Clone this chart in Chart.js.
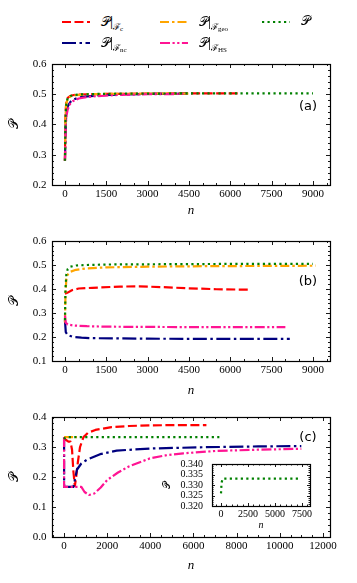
<!DOCTYPE html>
<html><head><meta charset="utf-8">
<script src="https://cdn.jsdelivr.net/npm/chart.js@4/dist/chart.umd.min.js"></script>
<style>
html,body{margin:0;padding:0;background:#fff;}
#wrap{position:relative;width:357px;height:583px;overflow:hidden;font-family:"Liberation Serif",serif;color:#000;}
canvas{position:absolute;}
.lg{position:absolute;height:20px;white-space:nowrap;}
.lg svg{position:absolute;left:0;top:0;}
.lg .t{position:absolute;top:2px;font-size:13px;line-height:14px;}
.lg .bar{font-size:15px;}
.lg .s1{font-size:9px;position:relative;top:4px;}
.lg .s2{font-size:7px;position:relative;top:1px;}
.pl{position:absolute;font-family:"DejaVu Sans",sans-serif;font-size:13px;line-height:14px;transform:translate(-50%,-50%);}
</style>
</head><body>
<div id="wrap">
  <canvas id="ca" width="357" height="173" style="left:0;top:52px"></canvas>
  <canvas id="cb" width="357" height="172" style="left:0;top:229px"></canvas>
  <canvas id="cc" width="357" height="172" style="left:0;top:405px"></canvas>
  <canvas id="ci" width="160" height="83" style="left:160px;top:449px"></canvas>
  <div class="pl" style="left:308px;top:106px">(a)</div>
  <div class="pl" style="left:308px;top:281px">(b)</div>
  <div class="pl" style="left:308px;top:437px">(c)</div>
  <div id="legend"></div>
</div>
<script>
// ---------- tick labels ----------
const xTicksAB = [0,1500,3000,4500,6000,7500,9000];
const xTicksC  = [0,2000,4000,6000,8000,10000,12000];
const xTicksIn = [0,2500,5000,7500];
const yTicksA  = [0.2,0.3,0.4,0.5,0.6];
const yTicksB  = [0.1,0.2,0.3,0.4,0.5,0.6];
const yTicksC  = [0.0,0.1,0.2,0.3,0.4];
const yTicksIn = [0.320,0.325,0.330,0.335,0.340];

// ---------- series names ----------
const seriesNames = ['𝒫|ℱc','𝒫|ℱnc','𝒫|ℱgeo','𝒫|ℱHS','𝒫'];

// ---------- panel (a) ----------
const nA_c   = [0,20,50,100,200,400,800,1500,3000,4500,6300];
const pA_c   = [0.28,0.44,0.475,0.488,0.495,0.499,0.500,0.501,0.502,0.503,0.503];
const nA_nc  = [0,30,60,100,200,300,500,800,1200,2000,3000,4600];
const pA_nc  = [0.28,0.41,0.44,0.46,0.475,0.482,0.489,0.493,0.496,0.499,0.501,0.502];
const nA_geo = [0,20,50,100,200,400,800,1500,3000,4500];
const pA_geo = [0.28,0.43,0.47,0.485,0.493,0.497,0.500,0.501,0.502,0.502];
const nA_hs  = [0,30,60,100,200,300,500,800,1200,2000,3000,4400];
const pA_hs  = [0.28,0.40,0.43,0.45,0.47,0.478,0.486,0.491,0.494,0.498,0.500,0.501];
const nA_all = [0,20,50,100,200,300,500,800,1200,2000,3000,4500,6000,7500,9000];
const pA_all = [0.28,0.42,0.47,0.487,0.494,0.497,0.499,0.500,0.501,0.502,0.502,0.503,0.503,0.503,0.503];

// ---------- panel (b) ----------
const nB_c   = [0,100,250,500,1000,2000,2700,3500,4500,5500,6700];
const pB_c   = [0.38,0.385,0.395,0.402,0.405,0.410,0.411,0.408,0.403,0.399,0.397];
const nB_nc  = [0,30,100,300,600,1000,2000,3000,5000,8160];
const pB_nc  = [0.27,0.22,0.208,0.200,0.197,0.195,0.194,0.193,0.192,0.192];
const nB_geo = [0,20,50,100,200,400,800,1500,3000,5000,7000,9100];
const pB_geo = [0.26,0.38,0.44,0.46,0.472,0.480,0.486,0.490,0.493,0.495,0.496,0.497];
const nB_hs  = [0,30,100,300,800,1500,3000,5000,8000];
const pB_hs  = [0.29,0.26,0.252,0.248,0.245,0.243,0.242,0.241,0.241];
const nB_all = [0,20,50,100,200,400,800,1500,3000,5000,7000,9000];
const pB_all = [0.27,0.40,0.46,0.483,0.493,0.498,0.500,0.502,0.503,0.504,0.505,0.505];

// ---------- panel (c) ----------
const nC_c   = [0,60,200,300,370,430,500,560,640,740,900,1100,1450,2200,3000,4000,5000,6600];
const pC_c   = [0.333,0.325,0.318,0.318,0.29,0.22,0.17,0.20,0.25,0.30,0.333,0.347,0.357,0.366,0.370,0.372,0.373,0.373];
const nC_nc  = [0,1,430,500,600,800,1050,1670,2440,4000,6300,9000,11000];
const pC_nc  = [0.333,0.167,0.167,0.19,0.225,0.245,0.257,0.276,0.288,0.295,0.299,0.302,0.303];
const nC_geo = [0,600];
const pC_geo = [0.333,0.333];
const nC_hs  = [0,1,800,950,1150,1400,1700,2000,2500,3000,3980,4700,5530,7080,9000,11000];
const pC_hs  = [0.333,0.167,0.167,0.15,0.14,0.145,0.165,0.19,0.215,0.235,0.262,0.272,0.279,0.287,0.291,0.294];
const nC_all = [0,50,150,500,7200];
const pC_all = [0.326,0.331,0.333,0.333,0.333];

// ---------- styles ----------
const COL = {c:'#ff0000', nc:'#00007f', geo:'#ffa500', hs:'#ff1493', all:'#008000'};
const DASH = {c:[9,3.5], nc:[14,3.5,2.5,3.5], geo:[9,3,2.5,3], hs:[10,2.5,2.2,2.5,2.2,2.5], all:[2.2,3.3]};
const LW = 2.2;
const SERIF = '"Liberation Serif", "DejaVu Serif", serif';

function pts(n,p){ return n.map((v,i)=>({x:v,y:p[i]})); }
function ds(key,n,p,order){
  return {label:key, data:pts(n,p), borderColor:COL[key], borderDash:DASH[key], borderWidth:LW,
          pointRadius:0, tension:0, fill:false, borderCapStyle:'butt', borderJoinStyle:'round', order:order};
}

const frameTicks = {
  id:'frameTicks',
  beforeDatasetsDraw(chart, args, o){
    if(o.bg){ const a=chart.chartArea; const c=chart.ctx; c.save(); c.fillStyle='#fff'; c.fillRect(a.left,a.top,a.width,a.height); c.restore(); }
  },
  afterDatasetsDraw(chart, args, o){
    const {ctx, chartArea:a, scales:{x,y}} = chart;
    ctx.save();
    ctx.strokeStyle='#000'; ctx.lineWidth=0.9;
    ctx.beginPath();
    const tx=(v,len)=>{const px=Math.round(x.getPixelForValue(v))+0.5; if(px<a.left+1||px>a.right-1) return;
      ctx.moveTo(px,a.bottom); ctx.lineTo(px,a.bottom-len); ctx.moveTo(px,a.top); ctx.lineTo(px,a.top+len);};
    const ty=(v,len)=>{const py=Math.round(y.getPixelForValue(v))+0.5; if(py<a.top+1||py>a.bottom-1) return;
      ctx.moveTo(a.left,py); ctx.lineTo(a.left+len,py); ctx.moveTo(a.right,py); ctx.lineTo(a.right-len,py);};
    const minors=(scale,step,major)=>{const out=[]; const s=Math.ceil(scale.min/step); const e=Math.floor(scale.max/step);
      for(let i=s;i<=e;i++){const v=i*step; if(!major.some(m=>Math.abs(m-v)<step*1e-3)) out.push(v);} return out;};
    o.xMajor.forEach(v=>tx(v,o.maj)); minors(x,o.xMinor,o.xMajor).forEach(v=>tx(v,o.min));
    o.yMajor.forEach(v=>ty(v,o.maj)); minors(y,o.yMinor,o.yMajor).forEach(v=>ty(v,o.min));
    ctx.stroke();
    ctx.lineWidth=1.2;
    ctx.strokeRect(Math.round(a.left)+0.5,Math.round(a.top)+0.5,Math.round(a.width),Math.round(a.height));
    ctx.restore();
  }
};

function makeChart(id, cfg){
  const xT=cfg.xTicks, yT=cfg.yTicks;
  return new Chart(document.getElementById(id), {
    type:'line',
    data:{datasets:cfg.datasets},
    options:{
      responsive:false, animation:false, devicePixelRatio:1,
      layout:{padding:cfg.pad},
      plugins:{legend:{display:false}, tooltip:{enabled:false},
        frameTicks:{xMajor:xT, yMajor:yT, xMinor:cfg.xMinor, yMinor:cfg.yMinor, maj:cfg.maj||4, min:cfg.min||2, bg:!!cfg.bg}},
      scales:{
        x:{type:'linear', min:cfg.xMin, max:cfg.xMax,
           afterBuildTicks:s=>{s.ticks=xT.map(v=>({value:v}));},
           afterFit:s=>{s.height=cfg.xH;},
           grid:{display:false, drawTicks:false}, border:{display:false},
           ticks:{autoSkip:false, maxRotation:0, padding:cfg.xPad, color:'#000', font:{family:SERIF,size:cfg.fs},
                  callback:v=>String(v)},
           title:{display:true, text:'n', color:'#000', font:{family:SERIF, style:'italic', size:cfg.tfs},
                  padding:{top:0,bottom:cfg.xTitlePad}}},
        y:{type:'linear', min:cfg.yMin, max:cfg.yMax,
           afterBuildTicks:s=>{s.ticks=yT.map(v=>({value:v}));},
           afterFit:s=>{s.width=cfg.yW;},
           grid:{display:false, drawTicks:false}, border:{display:false},
           ticks:{autoSkip:false, padding:cfg.yPad, color:'#000', font:{family:SERIF,size:cfg.fs},
                  callback:v=>v.toFixed(cfg.dec)},
           title:{display:true, text:'𝒫', color:'#000', font:{family:SERIF, size:cfg.tfs},
                  padding:{top:cfg.yTitlePad,bottom:0}}}
      }
    },
    plugins:[frameTicks]
  });
}

function five(nc,pc,nnc,pnc,ngeo,pgeo,nhs,phs,nall,pall){
  return [ds('all',nall,pall,0), ds('hs',nhs,phs,1), ds('geo',ngeo,pgeo,2), ds('nc',nnc,pnc,3), ds('c',nc,pc,4)];
}

const mainCommon = {pad:{left:0,right:27,top:0,bottom:0}, xH:40, yW:52, fs:11, tfs:13, xPad:3, yPad:5.4, yTitlePad:7, dec:1, yMinor:0.02};

makeChart('ca', Object.assign({}, mainCommon, {
  datasets:five(nA_c,pA_c,nA_nc,pA_nc,nA_geo,pA_geo,nA_hs,pA_hs,nA_all,pA_all),
  xTicks:xTicksAB, yTicks:yTicksA, xMin:-470, xMax:9620, yMin:0.2, yMax:0.6, xMinor:500, xTitlePad:7}));
makeChart('cb', Object.assign({}, mainCommon, {
  datasets:five(nB_c,pB_c,nB_nc,pB_nc,nB_geo,pB_geo,nB_hs,pB_hs,nB_all,pB_all),
  xTicks:xTicksAB, yTicks:yTicksB, xMin:-470, xMax:9620, yMin:0.1, yMax:0.6, xMinor:500, xTitlePad:3}));
makeChart('cc', Object.assign({}, mainCommon, {
  datasets:five(nC_c,pC_c,nC_nc,pC_nc,nC_geo,pC_geo,nC_hs,pC_hs,nC_all,pC_all),
  xTicks:xTicksC, yTicks:yTicksC, xMin:-560, xMax:12330, yMin:0.0, yMax:0.4, xMinor:500, xTitlePad:4}));
makeChart('ci', {
  datasets:[ds('all',nC_all,pC_all,0)],
  pad:{left:0,right:10,top:0,bottom:0}, xH:26, yW:52, fs:10, tfs:10, xPad:2, yPad:9, yTitlePad:1, dec:3,
  xTicks:xTicksIn, yTicks:yTicksIn, xMin:-833, xMax:8240, yMin:0.320, yMax:0.340, xMinor:500, yMinor:0.001,
  xTitlePad:1, maj:3, min:1.5, bg:true});

// ---------- legend ----------
const legendItems = [
  {key:'c',   sub:'c',   x:62,  y:22},
  {key:'nc',  sub:'nc',  x:62,  y:43},
  {key:'geo', sub:'geo', x:160, y:22},
  {key:'hs',  sub:'HS',  x:160, y:43},
  {key:'all', sub:null,  x:262, y:22}
];
const lg = document.getElementById('legend');
legendItems.forEach(it=>{
  const d=document.createElement('div'); d.className='lg';
  d.style.left=it.x+'px'; d.style.top=(it.y-10)+'px';
  const dash=DASH[it.key].join(',');
  const txt = it.sub ? '<span>𝒫</span><span class="bar">|</span><span class="s1">ℱ<span class="s2">'+it.sub+'</span></span>' : '<span>𝒫</span>';
  d.innerHTML='<svg width="30" height="20"><line x1="0" y1="10" x2="28" y2="10" stroke="'+COL[it.key]+'" stroke-width="'+LW+'" stroke-dasharray="'+dash+'"/></svg>'+
              '<span class="t" style="left:39px">'+txt+'</span>';
  lg.appendChild(d);
});
</script>
</body></html>
